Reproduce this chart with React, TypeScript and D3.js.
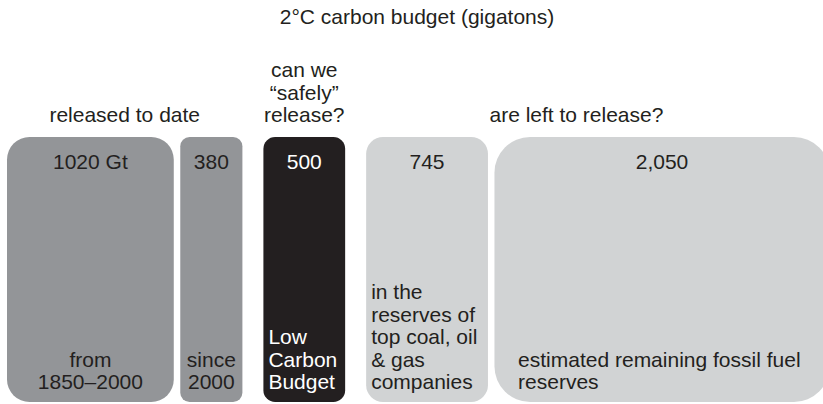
import * as d3 from "d3";
import React, { useEffect, useRef } from "react";

// gigatons of carbon, one rounded box per amount
const values = [1020, 380, 500, 745, 2050];
const valueLabels = ["1020 Gt", "380", "500", "745", "2,050"];
const boxKind = ["past", "past", "budget", "reserve", "reserve"];
const boxGroup = [0, 0, 1, 2, 2];
const groupLabels = [
  ["released to date"],
  ["can we", "\u201csafely\u201d", "release?"],
  ["are left to release?"],
];
const boxNotes = [
  ["from", "1850\u20132000"],
  ["since", "2000"],
  ["Low", "Carbon", "Budget"],
  ["in the", "reserves of", "top coal, oil", "& gas", "companies"],
  ["estimated remaining fossil fuel", "reserves"],
];
const title = "2\u00b0C carbon budget (gigatons)";

const W = 823;
const H = 404;
const FONT = "'Liberation Sans', Arial, Helvetica, sans-serif";
const INK = "#231f20";

export default function App() {
  const ref = useRef<SVGSVGElement | null>(null);

  useEffect(() => {
    const svg = d3.select(ref.current);
    svg.selectAll("*").remove();

    const top = 137;
    const bottom = 402;
    const lineH = 22.5;

    const w = d3.scaleLinear().domain([0, 1000]).range([0, 163.5]);
    const r = d3.scaleLinear().domain([60, 170, 340]).range([9, 23, 36]);
    const color = d3
      .scaleOrdinal<string>()
      .domain(["past", "budget", "reserve"])
      .range(["#939598", "#231f20", "#d1d3d4"]);

    // lay boxes out left to right, small gap inside a group, wider between groups
    let cursor = 7;
    const boxes = values.map((v, i) => {
      if (i > 0) cursor += boxGroup[i] === boxGroup[i - 1] ? 6.5 : 21;
      const b = { x: cursor, w: w(v), i };
      cursor += b.w;
      return b;
    });

    svg
      .append("text")
      .attr("x", 417)
      .attr("y", 24)
      .attr("text-anchor", "middle")
      .attr("font-size", 21)
      .attr("fill", INK)
      .text(title);

    const g = svg.append("g");

    g.selectAll("rect")
      .data(boxes)
      .enter()
      .append("rect")
      .attr("x", (d) => d.x)
      .attr("y", top)
      .attr("width", (d) => d.w)
      .attr("height", bottom - top)
      .attr("rx", (d) => r(d.w))
      .attr("fill", (d) => color(boxKind[d.i]));

    g.selectAll("text.value")
      .data(boxes)
      .enter()
      .append("text")
      .attr("class", "value")
      .attr("x", (d) => d.x + d.w / 2)
      .attr("y", 169)
      .attr("text-anchor", "middle")
      .attr("font-size", 21)
      .attr("fill", (d) => (boxKind[d.i] === "budget" ? "#fff" : INK))
      .text((d) => valueLabels[d.i]);

    boxes.forEach((b) => {
      const lines = boxNotes[b.i];
      const centered = boxKind[b.i] === "past";
      const pad = Math.max(5, r(b.w) - 12);
      const t = g
        .append("text")
        .attr("font-size", 21)
        .attr("fill", boxKind[b.i] === "budget" ? "#fff" : INK)
        .attr("text-anchor", centered ? "middle" : "start");
      lines.forEach((line, j) => {
        t.append("tspan")
          .attr("x", centered ? b.x + b.w / 2 : b.x + pad)
          .attr("y", 389 - (lines.length - 1 - j) * lineH)
          .text(line);
      });
    });

    groupLabels.forEach((lines, gi) => {
      const members = boxes.filter((b) => boxGroup[b.i] === gi);
      const first = members[0];
      const last = members[members.length - 1];
      const wide = last.x + last.w > W;
      const x = wide ? last.x - 5 : (first.x + last.x + last.w) / 2;
      const t = svg
        .append("text")
        .attr("font-size", 21)
        .attr("fill", INK)
        .attr("text-anchor", wide ? "start" : "middle");
      lines.forEach((line, j) => {
        t.append("tspan")
          .attr("x", x)
          .attr("y", 122 - (lines.length - 1 - j) * lineH)
          .text(line);
      });
    });
  }, []);

  return (
    <svg
      ref={ref}
      width={W}
      height={H}
      viewBox={`0 0 ${W} ${H}`}
      style={{ position: "absolute", left: 0, top: 0, fontFamily: FONT, background: "#fff" }}
    />
  );
}
